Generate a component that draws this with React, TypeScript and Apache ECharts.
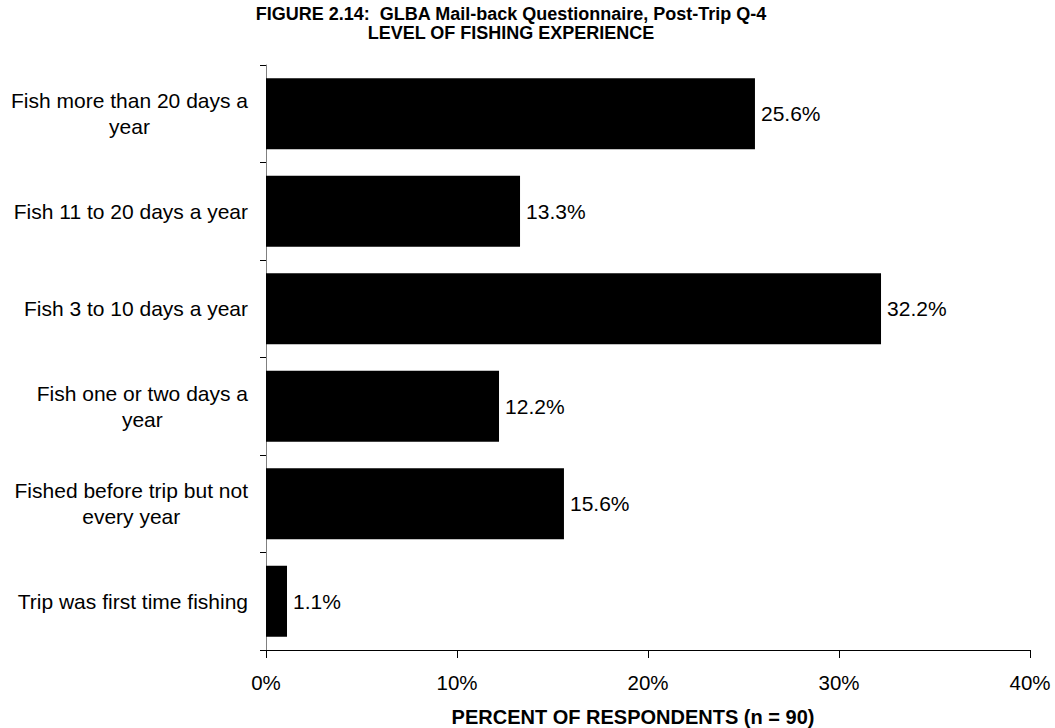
import React, { useEffect, useRef } from "react";
import * as echarts from "echarts";

const categories = [
  "Fish more than 20 days a\nyear",
  "Fish 11 to 20 days a year",
  "Fish 3 to 10 days a year",
  "Fish one or two days a\nyear",
  "Fished before trip but not\nevery year",
  "Trip was first time fishing",
];
const values = [25.6, 13.3, 32.2, 12.2, 15.6, 1.1];
const xTicks = [0, 10, 20, 30, 40];
const titleText = "FIGURE 2.14:  GLBA Mail-back Questionnaire, Post-Trip Q-4\nLEVEL OF FISHING EXPERIENCE";
const xAxisTitle = "PERCENT OF RESPONDENTS (n = 90)";

const FONT = "'Liberation Sans', Arial, sans-serif";

export default function App() {
  const ref = useRef<HTMLDivElement>(null);
  useEffect(() => {
    if (!ref.current) return;
    const chart = echarts.init(ref.current, null, { renderer: "svg" });
    chart.setOption({
      animation: false,
      backgroundColor: "#ffffff",
      textStyle: { fontFamily: FONT },
      title: [
        {
          text: titleText,
          left: 511,
          top: 4,
          padding: 0,
          textAlign: "center",
          textStyle: {
            fontFamily: FONT,
            fontSize: 18,
            fontWeight: "bold",
            color: "#000",
            lineHeight: 19,
          },
        },
        {
          text: xAxisTitle,
          left: 633,
          top: 707,
          padding: 0,
          textAlign: "center",
          textStyle: {
            fontFamily: FONT,
            fontSize: 20,
            fontWeight: "bold",
            color: "#000",
            lineHeight: 20,
          },
        },
      ],
      grid: { left: 266, right: 25, top: 65, bottom: 78, containLabel: false },
      xAxis: {
        type: "value",
        min: xTicks[0],
        max: xTicks[xTicks.length - 1],
        interval: 10,
        axisLine: { show: true, lineStyle: { color: "#000", width: 1 } },
        axisTick: { show: true, length: 8, lineStyle: { color: "#000" } },
        splitLine: { show: false },
        axisLabel: {
          formatter: (v: number) => `${v}%`,
          fontSize: 20.5,
          color: "#000",
          fontFamily: FONT,
          margin: 22,
        },
      },
      yAxis: {
        type: "category",
        data: categories,
        inverse: true,
        axisLine: { show: true, lineStyle: { color: "#808080", width: 1 } },
        axisTick: { show: true, length: 6, lineStyle: { color: "#000" } },
        axisLabel: {
          margin: 18,
          formatter: (v: string) => `{a|${v}}`,
          rich: {
            a: {
              align: "center",
              fontSize: 21,
              lineHeight: 26,
              color: "#000",
              fontFamily: FONT,
            },
          },
        },
      },
      series: [
        {
          type: "bar",
          data: values,
          barCategoryGap: "27%",
          itemStyle: { color: "#000" },
          label: {
            show: true,
            position: "right",
            distance: 6,
            formatter: (p: any) => `${p.value.toFixed(1)}%`,
            fontSize: 21,
            color: "#000",
            fontFamily: FONT,
          },
        },
      ],
    });
    return () => chart.dispose();
  }, []);
  return <div ref={ref} style={{ width: 1055, height: 728, position: "absolute", left: 0, top: 0 }} />;
}
